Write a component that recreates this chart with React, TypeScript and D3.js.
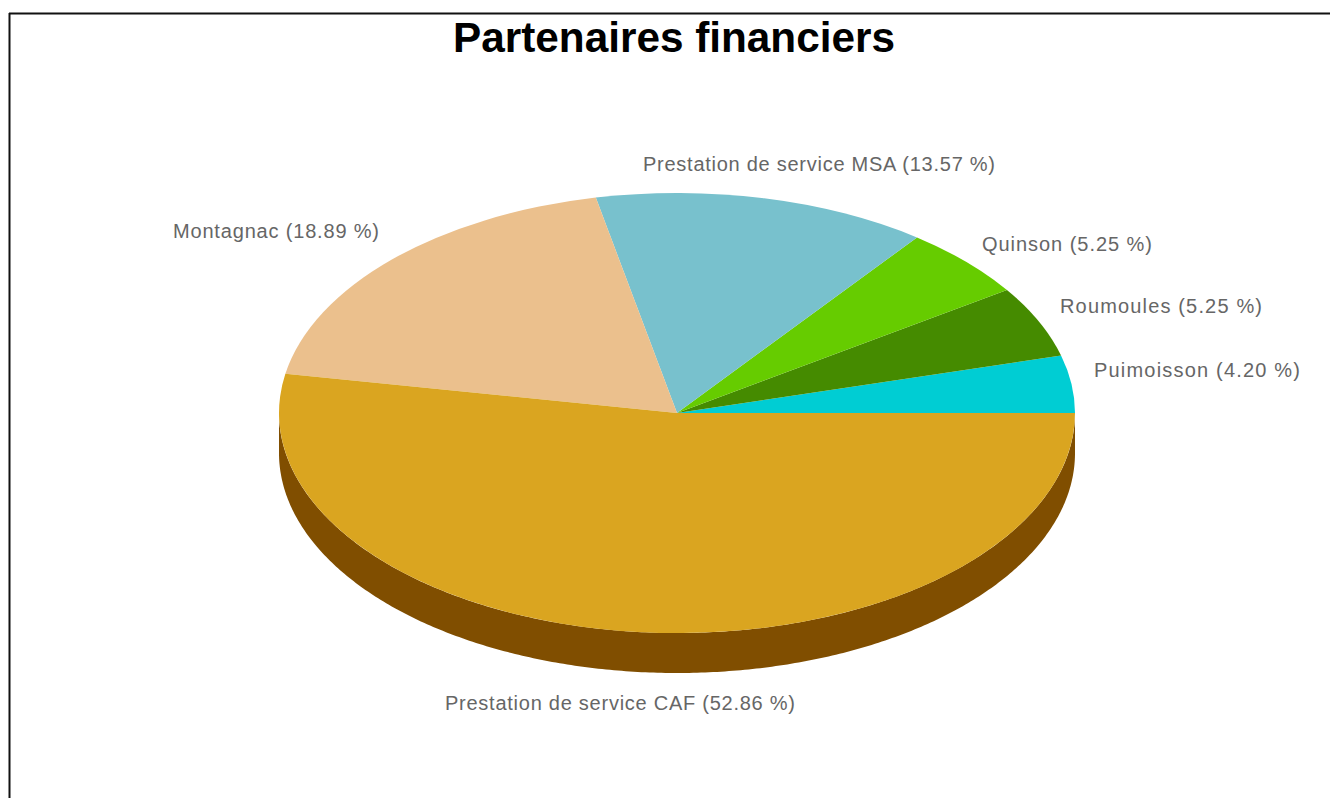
import React from "react";
import * as d3 from "d3";

const categories = ["Puimoisson", "Roumoules", "Quinson", "Prestation de service MSA", "Montagnac", "Prestation de service CAF"];
const values = [4.2, 5.25, 5.25, 13.57, 18.89, 52.86];
const valueLabels = ["4.20", "5.25", "5.25", "13.57", "18.89", "52.86"];
const colors = ["#00CDD3", "#458B00", "#66CC00", "#78C1CD", "#EBC08D", "#DAA520"];
const labelAnchors = [[1094, 377], [1060, 313], [982, 251], [643, 171], [173, 238], [445, 710]];
const labelWidths = [206, 202, 170, 352, 206, 350];
const title = "Partenaires financiers";

const W = 1330, H = 798, CX = 677, CY = 413, RX = 398, RY = 220, DEPTH = 40;

export default function App() {
  const pie = d3.pie<number>().sort(null).startAngle(Math.PI / 2).endAngle(Math.PI / 2 - 2 * Math.PI);
  const arcs = pie(values);
  const arc = d3.arc<d3.PieArcDatum<number>>().innerRadius(0).outerRadius(1);
  const x = d3.scaleLinear().domain([-1, 1]).range([CX - RX, CX + RX]);
  const y = d3.scaleLinear().domain([-1, 1]).range([CY - RY, CY + RY]);
  const side = d3.area<number>()
    .x((t) => x(Math.cos(t)))
    .y0((t) => y(Math.sin(t)))
    .y1((t) => y(Math.sin(t)) + DEPTH);
  const ts = d3.range(0, Math.PI + 0.005, 0.01);
  return (
    <svg width={W} height={H} style={{ position: "absolute", left: 0, top: 0, background: "#fff" }}>
      <line x1={9.5} y1={13} x2={9.5} y2={H} stroke="#111" strokeWidth={2} />
      <line x1={9} y1={13.5} x2={W} y2={13.5} stroke="#111" strokeWidth={2} />
      <text x={674} y={52} textAnchor="middle" fontFamily="'Liberation Sans', Arial, sans-serif" fontWeight="bold" fontSize={42.3} fill="#000">{title}</text>
      <path d={side(ts) || ""} fill="#804E00" />
      <g transform={`translate(${CX},${CY}) scale(${RX},${RY})`}>
        {arcs.map((a, i) => (
          <path key={categories[i]} d={arc(a) || ""} fill={colors[i]} />
        ))}
      </g>
      {categories.map((c, i) => (
        <text key={c} x={labelAnchors[i][0]} y={labelAnchors[i][1]} fontFamily="'Liberation Sans', Arial, sans-serif" fontSize={20} textLength={labelWidths[i]} lengthAdjust="spacing" fill="#666">
          {`${c} (${valueLabels[i]} %)`}
        </text>
      ))}
    </svg>
  );
}
